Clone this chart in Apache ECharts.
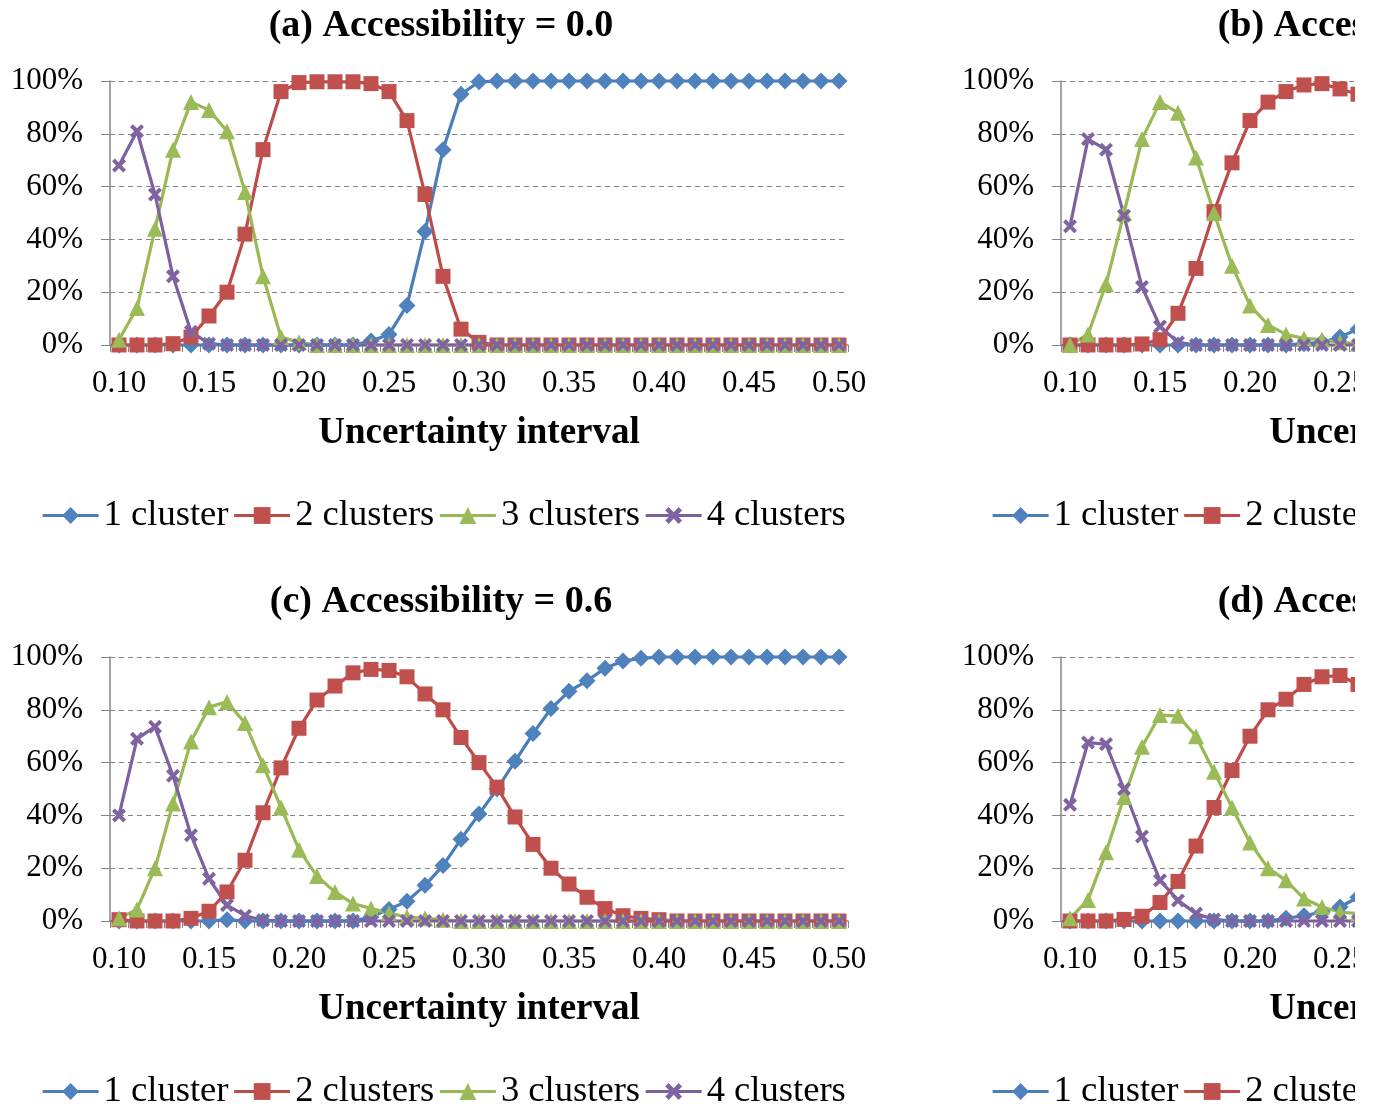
<!DOCTYPE html>
<html><head><meta charset="utf-8">
<script src="https://cdn.jsdelivr.net/npm/echarts@6/dist/echarts.min.js"></script>
<style>html,body{margin:0;padding:0;background:#fff}#wrap{width:1355px;height:1106px;overflow:hidden}#c{width:1900px;height:1106px}</style>
</head><body><div id="wrap"><div id="c"></div></div>
<script>
// ---- data ----
const categories = ['0.10','0.11','0.12','0.13','0.14','0.15','0.16','0.17','0.18','0.19',
  '0.20','0.21','0.22','0.23','0.24','0.25','0.26','0.27','0.28','0.29',
  '0.30','0.31','0.32','0.33','0.34','0.35','0.36','0.37','0.38','0.39',
  '0.40','0.41','0.42','0.43','0.44','0.45','0.46','0.47','0.48','0.49','0.50'];
const seriesNames = ['1 cluster','2 clusters','3 clusters','4 clusters'];
const panelTitles = ['(a) Accessibility = 0.0','(b) Accessibility = 0.3','(c) Accessibility = 0.6','(d) Accessibility = 0.9'];
const xAxisName = 'Uncertainty interval';

// (a) Accessibility = 0.0
const a_1cluster = [0,0,0,0,0,0,0,0,0,0,0,0,0,0,1.5,4,15,43,74,95,99.7,100,100,100,100,100,100,100,100,100,100,100,100,100,100,100,100,100,100,100,100];
const a_2clusters = [0,0,0,0.5,3,11,20,42,74,96,99.4,99.7,99.7,99.7,99,96,85,57,26,6,1,0,0,0,0,0,0,0,0,0,0,0,0,0,0,0,0,0,0,0,0];
const a_3clusters = [2,14,44,74,92,89,81,58,26,3,1,0,0,0,0,0,0,0,0,0,0,0,0,0,0,0,0,0,0,0,0,0,0,0,0,0,0,0,0,0,0];
const a_4clusters = [68,81,57,26,5,0.5,0,0,0,0,0,0,0,0,0,0,0,0,0,0,0,0,0,0,0,0,0,0,0,0,0,0,0,0,0,0,0,0,0,0,0];

// (b) visible part only (0.10 - 0.26)
const b_1cluster = [0,0,0,0,0,0,0,0,0,0,0,0,0,0.5,1,3,6];
const b_2clusters = [0,0,0,0,0.4,2,12,29,50.5,69,85,92,96,98.5,99,97,95];
const b_3clusters = [0,4,23,50,78,92,88,71,50,30,15,7.6,4,2.5,2,1,0.5];
const b_4clusters = [45,78,74,49,22,7,1,0,0,0,0,0,0,0,0,0,0];

// (c) Accessibility = 0.6
const c_1cluster = [0,0,0,0,0,0,0.5,0,0,0,0,0,0,0,1.5,4.4,7.5,13.5,21,31,40.5,50,60.5,71,80.5,87,91,95.7,98.5,99.5,100,100,100,100,100,100,100,100,100,100,100];
const c_2clusters = [0.5,0,0,0,1,3.7,11,23,41,58,73,83.7,89,94,95.3,94.9,92.5,86,80,69.5,60,50.7,39.4,29,20,14,9,4.7,2,1,0.5,0,0,0,0,0,0,0,0,0,0];
const c_3clusters = [1,4.4,20,44.5,68,81,83,75,59,43,27,17,11,6.6,4.7,3,1.5,1,0.5,0,0,0,0,0,0,0,0,0,0,0,0,0,0,0,0,0,0,0,0,0,0];
const c_4clusters = [40,69,73.6,55,32.5,16,6,2,0.3,0,0,0,0,0,0,0,0,0,0,0,0,0,0,0,0,0,0,0,0,0,0,0,0,0,0,0,0,0,0,0,0];

// (d) visible part only (0.10 - 0.26)
const d_1cluster = [0,0,0,0,0,0,0,0,0,0,0,0,1,2,3.4,5.3,9];
const d_2clusters = [0,0,0,0.6,1.8,7,15,28.4,43,57,70,80,84,89.6,92.5,93,89.6];
const d_3clusters = [1,8,26,47,66,78,77.7,70,56.5,43,29.7,20,15.4,8.5,5.3,3.4,2.8];
const d_4clusters = [44,67.6,67,50,32,15.4,7.8,2.8,0.6,0,0,0,0,0,0,0,0];

const panelData = [
  [a_1cluster,a_2clusters,a_3clusters,a_4clusters],
  [b_1cluster,b_2clusters,b_3clusters,b_4clusters],
  [c_1cluster,c_2clusters,c_3clusters,c_4clusters],
  [d_1cluster,d_2clusters,d_3clusters,d_4clusters]
];

// ---- styling ----
const FONT = "'Liberation Serif','Times New Roman',serif";
const lineColors = ['#4A7EBB','#BE4B48','#98B954','#7D60A0'];
const markColors = ['#4F81BD','#C0504D','#9BBB59','#8064A2'];
const xPath = 'path://M0,2 L2,0 L5,3 L8,0 L10,2 L7,5 L10,8 L8,10 L5,7 L2,10 L0,8 L3,5 Z';
const symbols = ['diamond','rect','triangle',xPath];
const symbolSizes = [17,15,16,14];
const GRAY = '#868686';

const grids = [], xAxes = [], yAxes = [], series = [], legends = [], graphics = [];
for (let k = 0; k < 4; k++) {
  const col = k % 2, row = Math.floor(k / 2);
  const gx = 110 + col * 951, gy = 81 + row * 576;
  grids.push({left: gx, top: gy, width: 738, height: 264, containLabel: false});
  xAxes.push({
    type: 'category', gridIndex: k, data: categories, boundaryGap: true,
    axisLine: {show: true, lineStyle: {color: GRAY, width: 1.5}},
    axisTick: {show: true, interval: 0, length: 7, lineStyle: {color: GRAY, width: 1}},
    axisLabel: {interval: 4, margin: 23, fontSize: 31, color: '#000', fontFamily: FONT},
    splitLine: {show: false},
    name: xAxisName, nameLocation: 'middle', nameGap: 70,
    nameTextStyle: {fontSize: 37, fontWeight: 'bold', color: '#000', fontFamily: FONT}
  });
  yAxes.push({
    type: 'value', gridIndex: k, min: 0, max: 100, interval: 20,
    axisLine: {show: true, lineStyle: {color: GRAY, width: 1.5}},
    axisTick: {show: true, length: 9, lineStyle: {color: GRAY, width: 1}},
    axisLabel: {formatter: '{value}%', margin: 27, fontSize: 31, color: '#000', fontFamily: FONT},
    splitLine: {show: true, lineStyle: {color: GRAY, width: 1, type: [5, 4]}}
  });
  for (let s = 0; s < 4; s++) {
    series.push({
      type: 'line', name: seriesNames[s], xAxisIndex: k, yAxisIndex: k,
      data: panelData[k][s], symbol: symbols[s], symbolSize: symbolSizes[s],
      showAllSymbol: true, clip: false,
      lineStyle: {width: 3.2, color: lineColors[s]},
      itemStyle: {color: markColors[s]},
      emphasis: {disabled: true}
    });
  }
  legends.push({
    data: seriesNames, left: 36 + col * 950, top: 492 + row * 576,
    itemWidth: 56, itemHeight: 21, itemGap: 4, selectedMode: false,
    lineStyle: {width: 3.2},
    textStyle: {fontSize: 36.6, color: '#000', fontFamily: FONT}
  });
  graphics.push({
    type: 'text', x: 441 + col * 950, y: 26 + row * 576,
    style: {text: panelTitles[k], font: "bold 38px " + FONT, fill: '#000', textAlign: 'center', textVerticalAlign: 'middle'}
  });
}

const chart = echarts.init(document.getElementById('c'), null, {renderer: 'canvas'});
chart.setOption({
  animation: false,
  backgroundColor: '#fff',
  grid: grids, xAxis: xAxes, yAxis: yAxes, series: series,
  legend: legends, graphic: graphics
});
</script></body></html>
